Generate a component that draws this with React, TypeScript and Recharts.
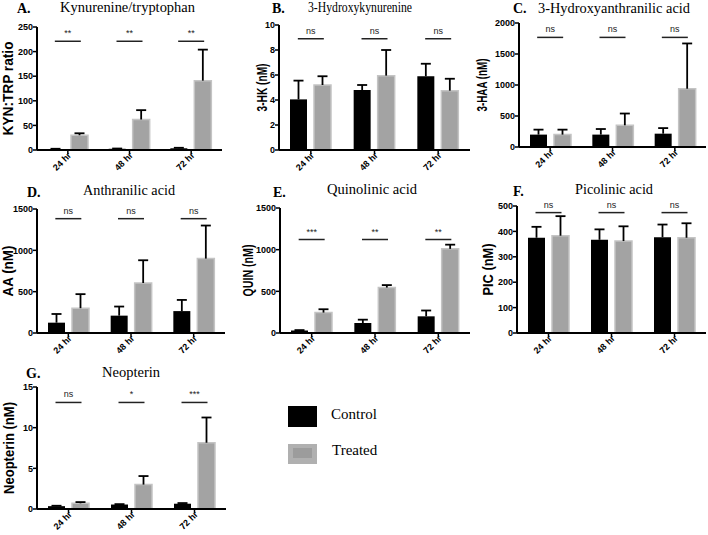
import React from 'react';
import { ComposedChart, Bar, XAxis, YAxis, Scatter, Label } from 'recharts';

const categories = ['24 hr', '48 hr', '72 hr'];

// A. Kynurenine/tryptophan
const kynCtrl = [2, 2.5, 3.5];
const kynCtrlSD = [0.5, 0.5, 1];
const kynTreat = [30, 62, 141];
const kynTreatSD = [4, 19, 63];
const kynSig = ['**', '**', '**'];
const kynSigY = 221;
const kynTicks = [0, 50, 100, 150, 200, 250];

// B. 3-Hydroxykynurenine
const hkCtrl = [4.05, 4.8, 5.9];
const hkCtrlSD = [1.5, 0.4, 1.0];
const hkTreat = [5.2, 5.95, 4.75];
const hkTreatSD = [0.7, 2.05, 0.95];
const hkSig = ['ns', 'ns', 'ns'];
const hkSigY = 8.9;
const hkTicks = [0, 2, 4, 6, 8, 10];

// C. 3-Hydroxyanthranilic acid
const haaCtrl = [200, 200, 215];
const haaCtrlSD = [80, 90, 90];
const haaTreat = [200, 350, 940];
const haaTreatSD = [80, 190, 730];
const haaSig = ['ns', 'ns', 'ns'];
const haaSigY = 1768;
const haaTicks = [0, 500, 1000, 1500, 2000];

// D. Anthranilic acid
const aaCtrl = [125, 210, 265];
const aaCtrlSD = [105, 110, 135];
const aaTreat = [300, 605, 900];
const aaTreatSD = [170, 275, 400];
const aaSig = ['ns', 'ns', 'ns'];
const aaSigY = 1383;
const aaTicks = [0, 500, 1000, 1500];

// E. Quinolinic acid
const quinCtrl = [30, 120, 200];
const quinCtrlSD = [5, 40, 70];
const quinTreat = [245, 545, 1010];
const quinTreatSD = [40, 30, 50];
const quinSig = ['***', '**', '**'];
const quinSigY = 1122;
const quinTicks = [0, 500, 1000, 1500];

// F. Picolinic acid
const picCtrl = [375, 367, 377];
const picCtrlSD = [43, 41, 50];
const picTreat = [383, 362, 375];
const picTreatSD = [77, 58, 57];
const picSig = ['ns', 'ns', 'ns'];
const picSigY = 474;
const picTicks = [0, 100, 200, 300, 400, 500];

// G. Neopterin
const neoCtrl = [0.35, 0.55, 0.65];
const neoCtrlSD = [0.05, 0.05, 0.08];
const neoTreat = [0.7, 3.0, 8.15];
const neoTreatSD = [0.15, 1.05, 3.1];
const neoSig = ['ns', '*', '***'];
const neoSigY = 13.1;
const neoTicks = [0, 5, 10, 15];

const SANS = '"Liberation Sans", Arial, sans-serif';
const SERIF = '"Liberation Serif", "Times New Roman", serif';

const panels = [
  { letter: 'A.', title: 'Kynurenine/tryptophan', yLabel: 'KYN:TRP ratio', ctrl: kynCtrl, ctrlSD: kynCtrlSD, treat: kynTreat, treatSD: kynTreatSD, sig: kynSig, sigY: kynSigY, ticks: kynTicks,
    box: { l: 37, r: 222, t: 27, b: 150 }, lab: { dx: -29, len: 94 }, ttl: { x: 127.5, y: 12, len: 135 }, let: { x: 17, y: 13 } },
  { letter: 'B.', title: '3-Hydroxykynurenine', yLabel: '3-HK (nM)', ctrl: hkCtrl, ctrlSD: hkCtrlSD, treat: hkTreat, treatSD: hkTreatSD, sig: hkSig, sigY: hkSigY, ticks: hkTicks,
    box: { l: 279, r: 470, t: 25, b: 150 }, lab: { dx: -17, len: 48 }, ttl: { x: 360, y: 12, len: 104 }, let: { x: 272, y: 13 } },
  { letter: 'C.', title: '3-Hydroxyanthranilic acid', yLabel: '3-HAA (nM)', ctrl: haaCtrl, ctrlSD: haaCtrlSD, treat: haaTreat, treatSD: haaTreatSD, sig: haaSig, sigY: haaSigY, ticks: haaTicks,
    box: { l: 519, r: 706, t: 23, b: 147 }, lab: { dx: -37, len: 53 }, ttl: { x: 614, y: 12.5, len: 152 }, let: { x: 513, y: 13 } },
  { letter: 'D.', title: 'Anthranilic acid', yLabel: 'AA (nM)', ctrl: aaCtrl, ctrlSD: aaCtrlSD, treat: aaTreat, treatSD: aaTreatSD, sig: aaSig, sigY: aaSigY, ticks: aaTicks,
    box: { l: 37, r: 225, t: 209, b: 333 }, lab: { dx: -29.5, len: 51 }, ttl: { x: 129, y: 195, len: 92 }, let: { x: 27, y: 197 } },
  { letter: 'E.', title: 'Quinolinic acid', yLabel: 'QUIN (nM)', ctrl: quinCtrl, ctrlSD: quinCtrlSD, treat: quinTreat, treatSD: quinTreatSD, sig: quinSig, sigY: quinSigY, ticks: quinTicks,
    box: { l: 280, r: 470, t: 208, b: 333 }, lab: { dx: -32.5, len: 52 }, ttl: { x: 372, y: 194, len: 90 }, let: { x: 273, y: 197 } },
  { letter: 'F.', title: 'Picolinic acid', yLabel: 'PIC (nM)', ctrl: picCtrl, ctrlSD: picCtrlSD, treat: picTreat, treatSD: picTreatSD, sig: picSig, sigY: picSigY, ticks: picTicks,
    box: { l: 517, r: 706, t: 206, b: 333 }, lab: { dx: -29.5, len: 52 }, ttl: { x: 614, y: 194, len: 78 }, let: { x: 513, y: 196 } },
  { letter: 'G.', title: 'Neopterin', yLabel: 'Neopterin (nM)', ctrl: neoCtrl, ctrlSD: neoCtrlSD, treat: neoTreat, treatSD: neoTreatSD, sig: neoSig, sigY: neoSigY, ticks: neoTicks,
    box: { l: 37, r: 226, t: 387, b: 509 }, lab: { dx: -28, len: 92 }, ttl: { x: 131, y: 377, len: 58 }, let: { x: 26, y: 378 } },
];

const AXW = 45;
const MT = 14;
const XH = 32;

const ErrShape = (props: any) => {
  const { x, y, width, height } = props;
  if (x == null || y == null) return null;
  const cx = x + width / 2;
  return (
    <g>
      <line x1={cx} x2={cx} y1={y} y2={y + height} stroke="#000" strokeWidth={1.8} />
      <line x1={cx - 5} x2={cx + 5} y1={y} y2={y} stroke="#000" strokeWidth={1.8} />
    </g>
  );
};

const SigShape = (props: any) => {
  const { cx, cy, payload } = props;
  if (cx == null || cy == null) return null;
  return (
    <g>
      <line x1={cx - 13} x2={cx + 13} y1={cy} y2={cy} stroke="#222" strokeWidth={1.5} />
      <text x={cx} y={cy - 5} textAnchor="middle" fontSize={9} fontFamily={SANS} fill="#222">{payload.sig}</text>
    </g>
  );
};

const XTick = (props: any) => {
  const { x, y, payload } = props;
  return (
    <g transform={`translate(${x + 4},${y})`}>
      <text x={0} y={0} textAnchor="end" transform="rotate(-45)" fontSize={9} fontWeight={700} fontFamily={SANS} fill="#000">{payload.value}</text>
    </g>
  );
};

const Panel = ({ p }: any) => {
  const rows = categories.map((c, i) => ({
    cat: c,
    ctrl: p.ctrl[i],
    ctrlSD: p.ctrlSD[i],
    treat: p.treat[i],
    treatSD: p.treatSD[i],
    sigY: p.sigY,
    sig: p.sig[i],
  }));
  const W = p.box.r - p.box.l + AXW + 2;
  const H = p.box.b - p.box.t + MT + XH;
  const max = p.ticks[p.ticks.length - 1];
  const YLab = (lp: any) => {
    const vb = lp.viewBox || { x: 0, y: MT, width: AXW, height: p.box.b - p.box.t };
    const cx = vb.x + vb.width + p.lab.dx;
    const cy = vb.y + vb.height / 2;
    return (
      <text x={cx} y={cy} transform={`rotate(-90, ${cx}, ${cy})`} textAnchor="middle" dominantBaseline="central"
        fontSize={14} fontWeight={700} fontFamily={SANS} fill="#000" textLength={p.lab.len} lengthAdjust="spacingAndGlyphs">{p.yLabel}</text>
    );
  };
  return (
    <div style={{ position: 'absolute', left: p.box.l - AXW, top: p.box.t - MT }}>
      <ComposedChart width={W} height={H} data={rows} margin={{ top: MT, right: 2, bottom: 0, left: 0 }} barSize={17} barGap={7}>
        <XAxis dataKey="cat" height={XH} interval={0} tick={<XTick />} tickSize={4}
          tickLine={{ stroke: '#000', strokeWidth: 1.5 }} axisLine={{ stroke: '#000', strokeWidth: 2 }} />
        <YAxis width={AXW} type="number" domain={[0, max]} ticks={p.ticks} interval={0} tickSize={4} tickMargin={0}
          tick={{ fontSize: 9, fontWeight: 700, fill: '#000', fontFamily: SANS }}
          tickLine={{ stroke: '#000', strokeWidth: 1.5 }} axisLine={{ stroke: '#000', strokeWidth: 2 }}>
          <Label content={YLab} />
        </YAxis>
        <Bar dataKey="ctrl" stackId="c" fill="#000" isAnimationActive={false} />
        <Bar dataKey="ctrlSD" stackId="c" shape={ErrShape} isAnimationActive={false} />
        <Bar dataKey="treat" stackId="t" fill="#a3a3a3" stroke="#c4c4c4" strokeWidth={1.5} isAnimationActive={false} />
        <Bar dataKey="treatSD" stackId="t" shape={ErrShape} isAnimationActive={false} />
        <Scatter dataKey="sigY" shape={SigShape} isAnimationActive={false} />
      </ComposedChart>
    </div>
  );
};

export default function App() {
  return (
    <div style={{ position: 'absolute', left: 0, top: 0, width: 708, height: 535, background: '#fff', overflow: 'hidden' }}>
      {panels.map((p, i) => <Panel key={i} p={p} />)}
      <svg width={708} height={535} style={{ position: 'absolute', left: 0, top: 0, pointerEvents: 'none' }}>
        {panels.map((p, i) => (
          <g key={i}>
            <text x={p.let.x} y={p.let.y} fontSize={14} fontWeight={700} fontFamily={SERIF} fill="#000">{p.letter}</text>
            <text x={p.ttl.x} y={p.ttl.y} textAnchor="middle" fontSize={14} fontFamily={SERIF} fill="#000"
              textLength={p.ttl.len} lengthAdjust="spacingAndGlyphs">{p.title}</text>
          </g>
        ))}
        <rect x={288} y={406} width={29} height={21} fill="#000" />
        <rect x={288} y={444} width={29} height={20} fill="#b0b0b0" />
        <rect x={293} y={448} width={19} height={10} fill="#9c9c9c" />
        <text x={331} y={419} fontSize={15} fontFamily={SERIF} fill="#000">Control</text>
        <text x={332} y={455} fontSize={15} fontFamily={SERIF} fill="#000">Treated</text>
      </svg>
    </div>
  );
}
